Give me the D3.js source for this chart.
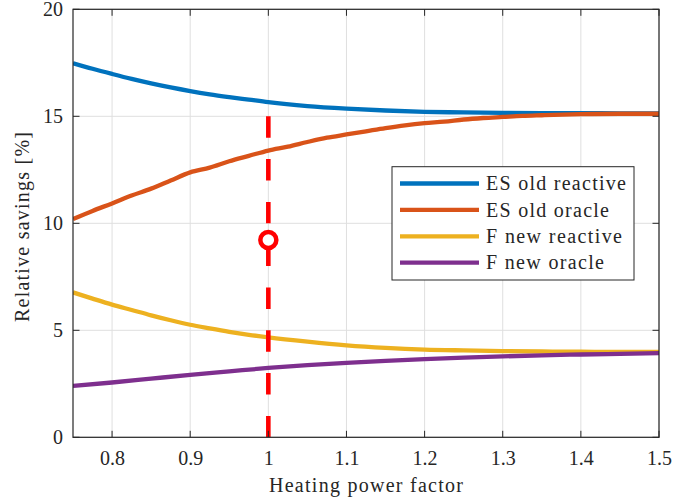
<!DOCTYPE html>
<html><head><meta charset="utf-8">
<script src="https://cdn.jsdelivr.net/npm/d3@7"></script>
<style>
html,body{margin:0;padding:0;background:#fff;}
svg{display:block;}
</style></head>
<body>
<svg id="chart" width="674" height="503"></svg>
<script>
const xTicks = [0.8, 0.9, 1.0, 1.1, 1.2, 1.3, 1.4, 1.5];
const yTicks = [0, 5, 10, 15, 20];
const seriesNames = ["ES old reactive", "ES old oracle", "F new reactive", "F new oracle"];
const seriesColors = ["#0072BD", "#D95319", "#EDB120", "#7E2F8E"];

const xBlue = [0.75,0.775,0.8,0.825,0.85,0.875,0.9,0.925,0.95,0.975,1.0,1.05,1.1,1.15,1.2,1.25,1.3,1.35,1.4,1.45,1.5];
const esOldReactive = [17.48,17.22,16.98,16.75,16.54,16.35,16.18,16.03,15.9,15.78,15.66,15.48,15.36,15.27,15.21,15.18,15.16,15.15,15.15,15.14,15.14];

const xOrange = [0.75,0.775,0.8,0.825,0.85,0.875,0.9,0.925,0.95,0.975,1.0,1.025,1.05,1.075,1.1,1.125,1.15,1.175,1.2,1.225,1.25,1.275,1.3,1.325,1.35,1.4,1.45,1.5];
const esOldOracle = [10.2,10.58,10.93,11.3,11.62,12.0,12.38,12.6,12.9,13.15,13.4,13.58,13.8,14.0,14.15,14.3,14.45,14.58,14.68,14.75,14.85,14.92,14.97,15.02,15.05,15.1,15.12,15.12];

const xYellow = [0.75,0.775,0.8,0.825,0.85,0.875,0.9,0.925,0.95,0.975,1.0,1.05,1.1,1.15,1.2,1.25,1.3,1.35,1.4,1.45,1.5];
const fNewReactive = [6.77,6.48,6.2,5.95,5.7,5.47,5.26,5.09,4.93,4.79,4.67,4.47,4.3,4.18,4.1,4.06,4.03,4.01,4.0,3.99,3.99];

const xPurple = [0.75,0.8,0.85,0.9,0.95,1.0,1.05,1.1,1.15,1.2,1.25,1.3,1.35,1.4,1.45,1.5];
const fNewOracle = [2.4,2.56,2.74,2.92,3.08,3.24,3.37,3.48,3.57,3.65,3.72,3.78,3.83,3.87,3.9,3.93];

const refX = 1.0;
const refLineTop = 15;
const markerPoint = [1.0, 9.22];

const series = [
  {name: seriesNames[0], color: seriesColors[0], xs: xBlue, ys: esOldReactive, w: 140},
  {name: seriesNames[1], color: seriesColors[1], xs: xOrange, ys: esOldOracle, w: 123},
  {name: seriesNames[2], color: seriesColors[2], xs: xYellow, ys: fNewReactive, w: 136},
  {name: seriesNames[3], color: seriesColors[3], xs: xPurple, ys: fNewOracle, w: 118}
];

const FONT = "'Liberation Serif', 'Times New Roman', serif";
const svg = d3.select("#chart").attr("font-family", FONT);
const L = 73, R = 659, T = 9.3, B = 437.3;
const x = d3.scaleLinear().domain([0.75, 1.5]).range([L, R]);
const y = d3.scaleLinear().domain([0, 20]).range([B, T]);
const axisColor = "#262626";
const gridColor = "#dfdfdf";
const tickLen = 6.5;
const fs = 20;

svg.append("defs").append("clipPath").attr("id", "clip")
  .append("rect").attr("x", L).attr("y", T).attr("width", R - L).attr("height", B - T);

const grid = svg.append("g");
grid.selectAll("line.gx").data(xTicks).enter().append("line")
  .attr("x1", d => x(d)).attr("x2", d => x(d)).attr("y1", T).attr("y2", B)
  .attr("stroke", gridColor).attr("stroke-width", 1);
grid.selectAll("line.gy").data(yTicks).enter().append("line")
  .attr("y1", d => y(d)).attr("y2", d => y(d)).attr("x1", L).attr("x2", R)
  .attr("stroke", gridColor).attr("stroke-width", 1);

const plot = svg.append("g").attr("clip-path", "url(#clip)");
const line = d3.line().x(d => x(d[0])).y(d => y(d[1])).curve(d3.curveMonotoneX);
series.forEach(s => {
  plot.append("path").datum(s.xs.map((v, i) => [v, s.ys[i]]))
    .attr("d", line).attr("fill", "none").attr("stroke", s.color)
    .attr("stroke-width", 4.3).attr("stroke-linejoin", "round");
});

const dashLen = y(0) - y(1);
plot.append("line")
  .attr("x1", x(refX)).attr("x2", x(refX))
  .attr("y1", y(refLineTop)).attr("y2", y(0))
  .attr("stroke", "#FF0000").attr("stroke-width", 4.6)
  .attr("stroke-dasharray", dashLen + " " + dashLen);
svg.append("circle")
  .attr("cx", x(markerPoint[0])).attr("cy", y(markerPoint[1]))
  .attr("r", 8).attr("fill", "#fff").attr("stroke", "#FF0000").attr("stroke-width", 4.5);

const xAxis = d3.axisBottom(x).tickValues(xTicks).tickSize(0).tickPadding(0)
  .tickFormat(d => d3.format("")(+d.toFixed(1)));
const gx = svg.append("g").attr("transform", `translate(0,${B})`).call(xAxis);
gx.attr("font-family", FONT).attr("font-size", fs);
gx.select(".domain").remove();
gx.selectAll("text").attr("dy", null).attr("y", 28).attr("fill", axisColor);

const yAxis = d3.axisLeft(y).tickValues(yTicks).tickSize(0).tickPadding(0);
const gy = svg.append("g").attr("transform", `translate(${L},0)`).call(yAxis);
gy.attr("font-family", FONT).attr("font-size", fs);
gy.select(".domain").remove();
gy.selectAll("text").attr("x", -10).attr("dy", "0.33em").attr("fill", axisColor);

const ticks = svg.append("g").attr("stroke", axisColor).attr("stroke-width", 1);
xTicks.forEach(t => {
  ticks.append("line").attr("x1", x(t)).attr("x2", x(t)).attr("y1", B).attr("y2", B - tickLen);
  ticks.append("line").attr("x1", x(t)).attr("x2", x(t)).attr("y1", T).attr("y2", T + tickLen);
});
yTicks.forEach(t => {
  ticks.append("line").attr("y1", y(t)).attr("y2", y(t)).attr("x1", L).attr("x2", L + tickLen);
  ticks.append("line").attr("y1", y(t)).attr("y2", y(t)).attr("x1", R).attr("x2", R - tickLen);
});
svg.append("rect").attr("x", L).attr("y", T).attr("width", R - L).attr("height", B - T)
  .attr("fill", "none").attr("stroke", axisColor).attr("stroke-width", 1.2);

svg.append("text").attr("x", (L + R) / 2).attr("y", 492).attr("text-anchor", "middle")
  .attr("font-family", FONT).attr("font-size", fs).attr("fill", axisColor)
  .attr("textLength", 194).attr("lengthAdjust", "spacing")
  .text("Heating power factor");
svg.append("text").attr("transform", `translate(29,227) rotate(-90)`)
  .attr("text-anchor", "middle").attr("font-family", FONT).attr("font-size", fs).attr("fill", axisColor)
  .attr("textLength", 190).attr("lengthAdjust", "spacing").text("Relative savings [%]");

const lg = svg.append("g");
lg.append("rect").attr("x", 392).attr("y", 166.7).attr("width", 242).attr("height", 113.3)
  .attr("fill", "#fff").attr("stroke", axisColor).attr("stroke-width", 1);
series.forEach((s, i) => {
  const yy = 183.5 + i * 26.4;
  lg.append("line").attr("x1", 400).attr("x2", 479).attr("y1", yy).attr("y2", yy)
    .attr("stroke", s.color).attr("stroke-width", 4.3);
  lg.append("text").attr("x", 486).attr("y", yy).attr("dy", "0.33em")
    .attr("font-family", FONT).attr("font-size", fs).attr("fill", axisColor)
    .attr("textLength", s.w).attr("lengthAdjust", "spacing").text(s.name);
});
</script>
</body></html>
